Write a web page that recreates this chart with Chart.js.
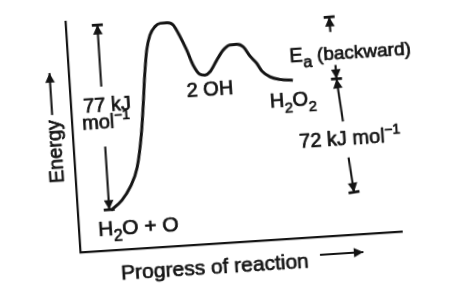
<!DOCTYPE html>
<html>
<head>
<meta charset="utf-8">
<title>Energy profile: H2O + O to H2O2</title>
<script src="https://cdn.jsdelivr.net/npm/chart.js@4.4.0/dist/chart.umd.min.js"></script>
<style>
  html, body { margin: 0; padding: 0; background: #fff; overflow: hidden; }
  #wrap { position: relative; width: 474px; height: 296px; }
  /* the source is a slightly tilted scan, so the whole drawing is turned a little */
  #energyChart { transform: rotate(-3.7deg); transform-origin: 237px 148px; }
</style>
</head>
<body>
<div id="wrap"><canvas id="energyChart" width="474" height="296"></canvas></div>
<script>
// ---------- data (progress 0-100, energy 0-100, schematic) ----------
const progress = [10.3, 13.9, 16.7, 19.3, 21.3, 22.6, 23.4, 24.6, 25.9, 27.6,
                  29.3, 31.4, 33.3, 35.2, 37.0, 38.7, 40.6, 42.2, 43.8, 46.1,
                  48.3, 50.5, 52.6, 54.6, 56.5, 58.4, 59.9, 62.3, 65.3, 69.3];
const energy   = [17.3, 21.3, 26.7, 35.1, 49.7, 64.0, 73.9, 85.5, 91.9, 95.4,
                  96.7, 96.8, 95.6, 90.4, 84.4, 77.7, 73.6, 73.1, 74.4, 79.2,
                  83.4, 85.4, 85.5, 84.2, 80.0, 76.8, 73.2, 70.5, 69.1, 68.4];

// energy levels used by the double-headed arrows
const levelReactant = 17.3;
const levelPeak = 97.7;
const levelProduct = 67.8;

// label texts
const labelForward = ['77 kJ', 'mol'];
const labelMid = '2 OH';
const labelBackward = '(backward)';
const labelEnthalpy = '72 kJ mol';
const axisX = 'Progress of reaction';
const axisY = 'Energy';

// ---------- styles ----------
const INK = '#141414';
const FONT = '"Liberation Sans", Arial, Helvetica, sans-serif';

// ---------- helpers ----------
function px(chart, x, y) {
  return [chart.scales.x.getPixelForValue(x), chart.scales.y.getPixelForValue(y)];
}

// parts: [text, sizeFactor, offsetFactor]; y is the middle of the capitals
function drawRich(ctx, parts, cx, cy, size) {
  let total = 0;
  parts.forEach(p => {
    ctx.font = `${Math.round(size * (p[1] || 1))}px ${FONT}`;
    total += ctx.measureText(p[0]).width;
  });
  let x = cx - total / 2;
  const base = cy + size * 0.36;
  ctx.textAlign = 'left';
  ctx.textBaseline = 'alphabetic';
  ctx.lineWidth = 0.7; // scanned print looks a bit heavier than the plain font
  ctx.lineJoin = 'round';
  parts.forEach(p => {
    ctx.font = `${Math.round(size * (p[1] || 1))}px ${FONT}`;
    ctx.fillText(p[0], x, base + size * (p[2] || 0));
    ctx.strokeText(p[0], x, base + size * (p[2] || 0));
    x += ctx.measureText(p[0]).width;
  });
}

function head(ctx, x, y, ang, len, half) {
  ctx.beginPath();
  ctx.moveTo(x, y);
  ctx.lineTo(x - len * Math.cos(ang) + half * Math.sin(ang), y - len * Math.sin(ang) - half * Math.cos(ang));
  ctx.lineTo(x - len * Math.cos(ang) - half * Math.sin(ang), y - len * Math.sin(ang) + half * Math.cos(ang));
  ctx.closePath();
  ctx.fill();
}

function bar(ctx, x, y, ang, w) {
  ctx.beginPath();
  ctx.moveTo(x + w / 2 * Math.sin(ang), y - w / 2 * Math.cos(ang));
  ctx.lineTo(x - w / 2 * Math.sin(ang), y + w / 2 * Math.cos(ang));
  ctx.stroke();
}

// line from a to b (pixels); tipped = draw arrowhead (+ bar) at b
function arrow(ctx, a, b, tipped, withBar) {
  ctx.lineWidth = 2.1;
  ctx.beginPath();
  ctx.moveTo(a[0], a[1]);
  ctx.lineTo(b[0], b[1]);
  ctx.stroke();
  if (!tipped) return;
  const ang = Math.atan2(b[1] - a[1], b[0] - a[0]);
  head(ctx, b[0], b[1], ang, 9.5, 4.8);
  if (withBar) {
    ctx.lineWidth = 2.8;
    bar(ctx, b[0], b[1], ang, 11);
  }
}

// ---------- annotations plugin ----------
const notesPlugin = {
  id: 'notes',
  afterDraw(chart) {
    const ctx = chart.ctx;
    ctx.save();
    ctx.strokeStyle = INK;
    ctx.fillStyle = INK;
    ctx.lineCap = 'butt';

    // 77 kJ arrow (reactants up to the first peak), broken for its label
    arrow(ctx, px(chart, 9.8, 71.0), px(chart, 9.8, levelPeak), true, true);
    arrow(ctx, px(chart, 9.8, 45.0), px(chart, 9.8, levelReactant + 0.3), true, true);

    // Ea (backward): product level up to the peak
    arrow(ctx, px(chart, 81.9, 88.2), px(chart, 81.8, 94.7), true, true);
    arrow(ctx, px(chart, 82.8, 73.8), px(chart, 82.84, levelProduct), true, true);

    // 72 kJ: product level down to reactants
    arrow(ctx, px(chart, 84.0, 49.2), px(chart, 82.84, levelProduct), true, false);
    arrow(ctx, px(chart, 85.0, 33.5), px(chart, 86.0, 18.3), true, true);

    // axis arrows
    arrow(ctx, px(chart, 74.2, -7.8), px(chart, 87.7, -7.8), true, false);
    arrow(ctx, px(chart, -6.0, 60.1), px(chart, -6.0, 78.3), true, false);

    // texts
    let p = px(chart, 11.2, 63.3);
    drawRich(ctx, [[labelForward[0]]], p[0], p[1], 20);
    p = px(chart, 10.6, 55.9);
    drawRich(ctx, [[labelForward[1]], ['\u22121', 0.72, -0.42]], p[0], p[1], 20);

    p = px(chart, 43.4, 67.1);
    drawRich(ctx, [[labelMid]], p[0], p[1], 20);

    p = px(chart, 69.0, 60.4);
    drawRich(ctx, [['H'], ['2', 0.75, 0.3], ['O'], ['2', 0.75, 0.3]], p[0], p[1], 20);

    p = px(chart, 18.5, 9.8);
    drawRich(ctx, [['H'], ['2', 0.75, 0.3], ['O + O']], p[0], p[1], 21);

    p = px(chart, 87.6, 79.4);
    drawRich(ctx, [['E'], ['a', 0.8, 0.32], [' ' + labelBackward, 0.93]], p[0], p[1], 20);

    p = px(chart, 85.8, 42.0);
    drawRich(ctx, [[labelEnthalpy], ['\u22121', 0.72, -0.42]], p[0], p[1], 20);

    p = px(chart, 41.4, -9.9);
    drawRich(ctx, [[axisX]], p[0], p[1], 21);

    p = px(chart, -6.0, 44.2);
    ctx.translate(p[0], p[1]);
    ctx.rotate(-Math.PI / 2);
    drawRich(ctx, [[axisY]], 0, 0, 20);

    ctx.restore();
  }
};

// ---------- chart ----------
const hiddenScale = (min, max) => ({
  type: 'linear',
  min: min,
  max: max,
  ticks: { display: false },
  grid: { display: false, drawTicks: false },
  border: { display: true, color: INK, width: 2.2 }
});

new Chart(document.getElementById('energyChart'), {
  type: 'scatter',
  data: {
    datasets: [{
      data: progress.map((x, i) => ({ x: x, y: energy[i] })),
      showLine: true,
      borderColor: INK,
      borderWidth: 3,
      pointRadius: 0,
      cubicInterpolationMode: 'monotone',
      fill: false
    }]
  },
  options: {
    responsive: false,
    animation: false,
    layout: { padding: { left: 74, right: 78, top: 11, bottom: 54 } },
    plugins: { legend: { display: false }, tooltip: { enabled: false } },
    scales: { x: hiddenScale(0, 100), y: hiddenScale(0, 100) }
  },
  plugins: [notesPlugin]
});
</script>
</body>
</html>
